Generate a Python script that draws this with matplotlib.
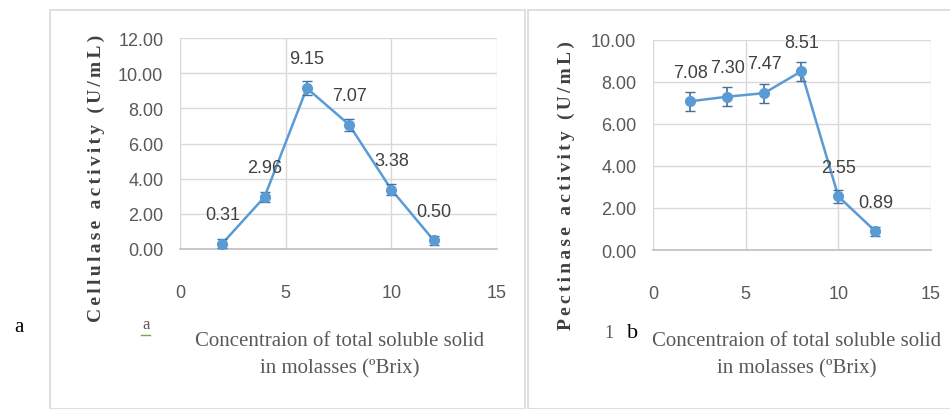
import matplotlib.pyplot as plt
from matplotlib.patches import Rectangle
from matplotlib.lines import Line2D

# data
brix = [2, 4, 6, 8, 10, 12]
cellulase = [0.31, 2.96, 9.15, 7.07, 3.38, 0.50]
cellulase_err = [0.25, 0.3, 0.4, 0.35, 0.3, 0.25]
pectinase = [7.08, 7.30, 7.47, 8.51, 2.55, 0.89]
pectinase_err = [0.45, 0.45, 0.45, 0.45, 0.3, 0.2]

x_ticks = [0, 5, 10, 15]
cell_ticks = [0, 2, 4, 6, 8, 10, 12]
pect_ticks = [0, 2, 4, 6, 8, 10]

BLUE = '#5B9BD5'
GRAY = '#595959'
GRID = '#D9D9D9'
NUM_FONT = ['Liberation Sans Narrow', 'Liberation Sans', 'DejaVu Sans']
SERIF = ['Liberation Serif', 'DejaVu Serif']

fig = plt.figure(figsize=(9.5, 4.1), dpi=100)

# panel frames
fig.patches.append(Rectangle((50 / 950, 0), 475 / 950, 399 / 410, transform=fig.transFigure,
                             fill=False, edgecolor='#D9D9D9', linewidth=1.2))
fig.patches.append(Rectangle((528 / 950, 0), 430 / 950, 399 / 410, transform=fig.transFigure,
                             fill=False, edgecolor='#D9D9D9', linewidth=1.2))


def spaced(s):
    # loose letter spacing like the original axis titles
    return '\u200a\u200a'.join(s)


def draw_panel(rect, y, yerr, yticks, ylabel):
    ax = fig.add_axes(rect)
    ax.plot(brix, y, color=BLUE, linewidth=1.8, zorder=3)
    ax.errorbar(brix, y, yerr=yerr, fmt='o', color=BLUE, ecolor='#41719C',
                markersize=7, capsize=3.5, elinewidth=1.2, zorder=4)
    for xv, yv in zip(brix, y):
        ax.annotate(f'{yv:.2f}', (xv, yv), textcoords='offset points', xytext=(0, 21),
                    ha='center', va='center', fontsize=13, color='#404040', family=NUM_FONT)
    ax.set_xlim(0, 15)
    ax.set_ylim(yticks[0], yticks[-1])
    ax.set_xticks(x_ticks)
    ax.set_yticks(yticks)
    ax.set_xticklabels([str(t) for t in x_ticks])
    ax.set_yticklabels([f'{t:.2f}' for t in yticks])
    for lab in ax.get_xticklabels() + ax.get_yticklabels():
        lab.set_family(NUM_FONT)
        lab.set_fontsize(13)
        lab.set_color(GRAY)
    ax.tick_params(axis='x', length=0, pad=25)
    ax.tick_params(axis='y', length=0, pad=12)
    ax.grid(True, color=GRID, linewidth=1)
    ax.set_axisbelow(True)
    for s in ['top', 'right', 'left']:
        ax.spines[s].set_visible(False)
    ax.spines['bottom'].set_color('#BFBFBF')
    ax.spines['bottom'].set_linewidth(1.2)
    ax.set_ylabel(spaced(ylabel), family=SERIF, fontsize=14, fontweight='bold', color='#404040')
    return ax


ax1 = draw_panel([180 / 950, 160 / 410, 317 / 950, 211 / 410], cellulase, cellulase_err,
                 cell_ticks, 'Cellulase activity (U/mL)')
ax2 = draw_panel([653 / 950, 159 / 410, 278 / 950, 210 / 410], pectinase, pectinase_err,
                 pect_ticks, 'Pectinase activity (U/mL)')
ax1.yaxis.set_label_coords(-0.237, 0.34)
ax2.yaxis.set_label_coords(-0.28, 0.31)

xlab = 'Concentraion of total soluble solid\nin molasses (\u00baBrix)'
fig.text(340 / 950, 1 - 355 / 410, xlab, ha='center', va='center', fontsize=15,
         family=SERIF, color=GRAY, linespacing=1.6)
fig.text(797 / 950, 1 - 355 / 410, xlab, ha='center', va='center', fontsize=15,
         family=SERIF, color=GRAY, linespacing=1.6)

# panel letters
fig.text(14 / 950, 1 - 327 / 410, 'a', fontsize=15, family=SERIF, color='black', va='center')
fig.text(142 / 950, 1 - 325 / 410, 'a', fontsize=12, family=SERIF, color=GRAY, va='center')
fig.lines.append(Line2D([141 / 950, 150 / 950], [1 - 336 / 410, 1 - 336 / 410],
                        transform=fig.transFigure, color='#70AD47', linewidth=1))
fig.text(604 / 950, 1 - 333 / 410, '1', fontsize=13, family=SERIF, color=GRAY, va='center')
fig.text(627 / 950, 1 - 333 / 410, 'b', fontsize=16, family=SERIF, color='black', va='center')

fig.savefig('out.png', dpi=100)
